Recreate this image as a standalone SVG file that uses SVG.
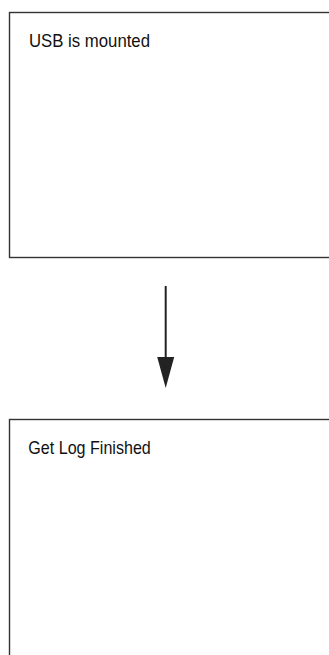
<svg xmlns="http://www.w3.org/2000/svg" width="329" height="655" viewBox="0 0 329 655">
<style>
.box{fill:#fff;stroke:#333;stroke-width:1.4}
.lbl{font-family:"Liberation Sans",Arial,sans-serif;font-size:18.5px;fill:#111}
.conn{stroke:#222;stroke-width:2;fill:none}
.head{fill:#222}
</style>
<rect width="329" height="655" fill="#fff"/>
<g id="node-usb">
<rect class="box" x="9.5" y="12.5" width="330" height="245"/>
<text class="lbl" x="29" y="46.7" textLength="121" lengthAdjust="spacingAndGlyphs">USB is mounted</text>
</g>
<g id="node-getlog">
<rect class="box" x="9.5" y="419.5" width="330" height="250"/>
<text class="lbl" x="28.3" y="454.3" textLength="122.5" lengthAdjust="spacingAndGlyphs">Get Log Finished</text>
</g>
<g id="connectors">
<line class="conn" x1="165.7" y1="286" x2="165.7" y2="358"/>
<path class="head" d="M157.2,357 L174.2,357 L165.7,388 Z"/>
</g>
</svg>
